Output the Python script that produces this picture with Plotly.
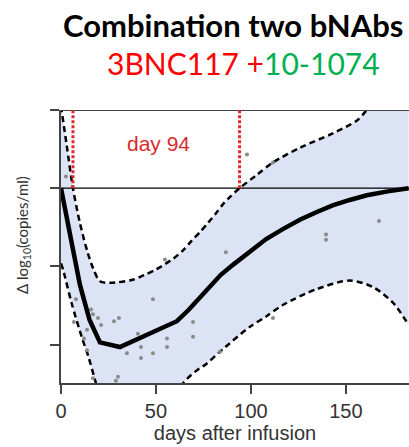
import plotly.graph_objects as go

# ---- data ----
mean_days = [0, 5, 10, 15, 20.5, 31, 61, 67, 72, 77, 84, 90.5, 100, 108, 117, 126, 135, 143, 152, 161, 172, 183]
mean_vals = [0.0, -0.62, -1.24, -1.68, -1.97, -2.03, -1.70, -1.56, -1.43, -1.28, -1.11, -0.98, -0.80, -0.65,
             -0.52, -0.40, -0.30, -0.22, -0.15, -0.09, -0.04, 0.0]

upper_days = [0, 3, 6.3, 10, 14, 17, 20.5, 26, 37.7, 43.8, 49.9, 59.1, 64.4, 68.8, 73.2, 77.5, 81.6, 85.4,
              89, 94, 103, 111.6, 126, 143, 156, 161, 170, 183]
upper_vals = [1.05, 0.55, 0.0, -0.45, -0.82, -1.03, -1.19, -1.21, -1.17, -1.11, -1.04, -0.90, -0.79, -0.67,
              -0.56, -0.44, -0.32, -0.20, -0.11, 0.0, 0.17, 0.33, 0.52, 0.70, 0.87, 1.0, 1.25, 1.6]

lower_days = [0, 1.2, 5.6, 10.9, 14.4, 17.9, 25, 35, 45, 55, 64.4, 73, 75.8, 83.7, 99.5, 108, 117, 134.6,
              152, 164, 175, 183]
lower_vals = [-0.96, -1.05, -1.47, -1.90, -2.15, -2.45, -3.05, -3.35, -3.3, -2.95, -2.49, -2.30, -2.26, -2.09,
              -1.77, -1.64, -1.49, -1.29, -1.18, -1.26, -1.47, -1.75]

obs_days = [2.6, 7.9, 6.8, 12.1, 13.7, 13.7, 15.8, 16.8, 16.8, 19.5, 21.1, 27.9, 30.5, 30.0, 28.9, 34.7,
            40.5, 42.1, 42.1, 48.4, 48.4, 54.7, 55.8, 55.8, 69.5, 69.5, 83.7, 86.8, 97.9, 111.6, 111.6,
            139.5, 139.5, 167.4]
obs_vals = [0.15, -1.42, -1.71, -1.92, -1.81, -2.07, -1.55, -1.61, -2.43, -1.66, -1.75, -1.70, -1.66, -2.41,
            -2.46, -2.11, -1.86, -2.03, -2.17, -1.42, -2.11, -0.91, -1.92, -2.03, -1.71, -1.90, -2.09, -0.82,
            0.43, 0.33, -1.66, -0.59, -0.66, -0.42]

marker_days = [6.3, 94]
x_ticks = [0, 50, 100, 150]
y_ticks = [-2, -1, 0, 1]
x_range = [0, 183.2]
y_range = [-2.49, 1.0]

fig = go.Figure()

# confidence band fill
fig.add_trace(go.Scatter(x=lower_days, y=lower_vals, mode="lines",
                         line=dict(color="black", width=2.5, dash="6px,4px", shape="spline", smoothing=0.8),
                         hoverinfo="skip", showlegend=False))
fig.add_trace(go.Scatter(x=upper_days, y=upper_vals, mode="lines", fill="tonexty",
                         fillcolor="#dce3f5",
                         line=dict(color="black", width=2.5, dash="6px,4px", shape="spline", smoothing=0.8),
                         hoverinfo="skip", showlegend=False))

# observations
fig.add_trace(go.Scatter(x=obs_days, y=obs_vals, mode="markers",
                         marker=dict(color="#8a8a8a", size=4), showlegend=False))

# mean
fig.add_trace(go.Scatter(x=mean_days, y=mean_vals, mode="lines",
                         line=dict(color="black", width=4.5), showlegend=False))

shapes = [
    dict(type="line", xref="paper", yref="y", x0=0, x1=1, y0=1, y1=1, line=dict(color="#444", width=2)),
    dict(type="line", xref="paper", yref="y", x0=0, x1=1, y0=0, y1=0, line=dict(color="black", width=1.3)),
]
for d in marker_days:
    shapes.append(dict(type="line", xref="x", yref="y", x0=d, x1=d, y0=0, y1=1,
                       line=dict(color="#e0282d", width=3, dash="3px,2px")))

fig.update_layout(
    width=409, height=447,
    margin=dict(l=61, r=0, t=110, b=64),
    plot_bgcolor="white", paper_bgcolor="white",
    shapes=shapes,
    xaxis=dict(range=x_range, tickvals=x_ticks, showgrid=False, zeroline=False,
               showline=True, linecolor="#444", linewidth=2,
               ticks="outside", ticklen=9, tickwidth=1.5, tickcolor="#444",
               tickfont=dict(family="Liberation Sans", size=20, color="#333"),
               title=dict(text="days after infusion", standoff=4,
                          font=dict(family="Liberation Sans", size=20, color="#333"))),
    yaxis=dict(range=y_range, tickvals=y_ticks, showticklabels=False, showgrid=False, zeroline=False,
               showline=True, linecolor="#444", linewidth=2,
               ticks="outside", ticklen=9, tickwidth=1.5, tickcolor="#444"),
    annotations=[
        dict(text="<b>Combination two bNAbs</b>", xref="paper", yref="paper", x=(233-61)/348, y=1,
             yshift=110-25, xanchor="center", yanchor="middle", showarrow=False,
             font=dict(family="Lato", size=31, color="black")),
        dict(text="<span style='color:#ff0000'>3BNC117 +</span><span style='color:#00b050'>10-1074</span>",
             xref="paper", yref="paper", x=(243-61)/348, y=1, yshift=110-63,
             xanchor="center", yanchor="middle", showarrow=False,
             font=dict(family="Lato", size=30, color="#ff0000")),
        dict(text="day 94", xref="x", yref="y", x=51.5, y=0.57, xanchor="center", yanchor="middle",
             showarrow=False, font=dict(family="Liberation Sans", size=21, color="#d92a2a")),
        dict(text="Δ log<sub>10</sub>(copies/ml)", xref="paper", yref="paper", x=0, xshift=-38,
             y=(383-235)/273, textangle=-90, xanchor="center", yanchor="middle", showarrow=False,
             font=dict(family="Lato", size=15, color="#333")),
    ],
)

fig.write_html("out.html")
